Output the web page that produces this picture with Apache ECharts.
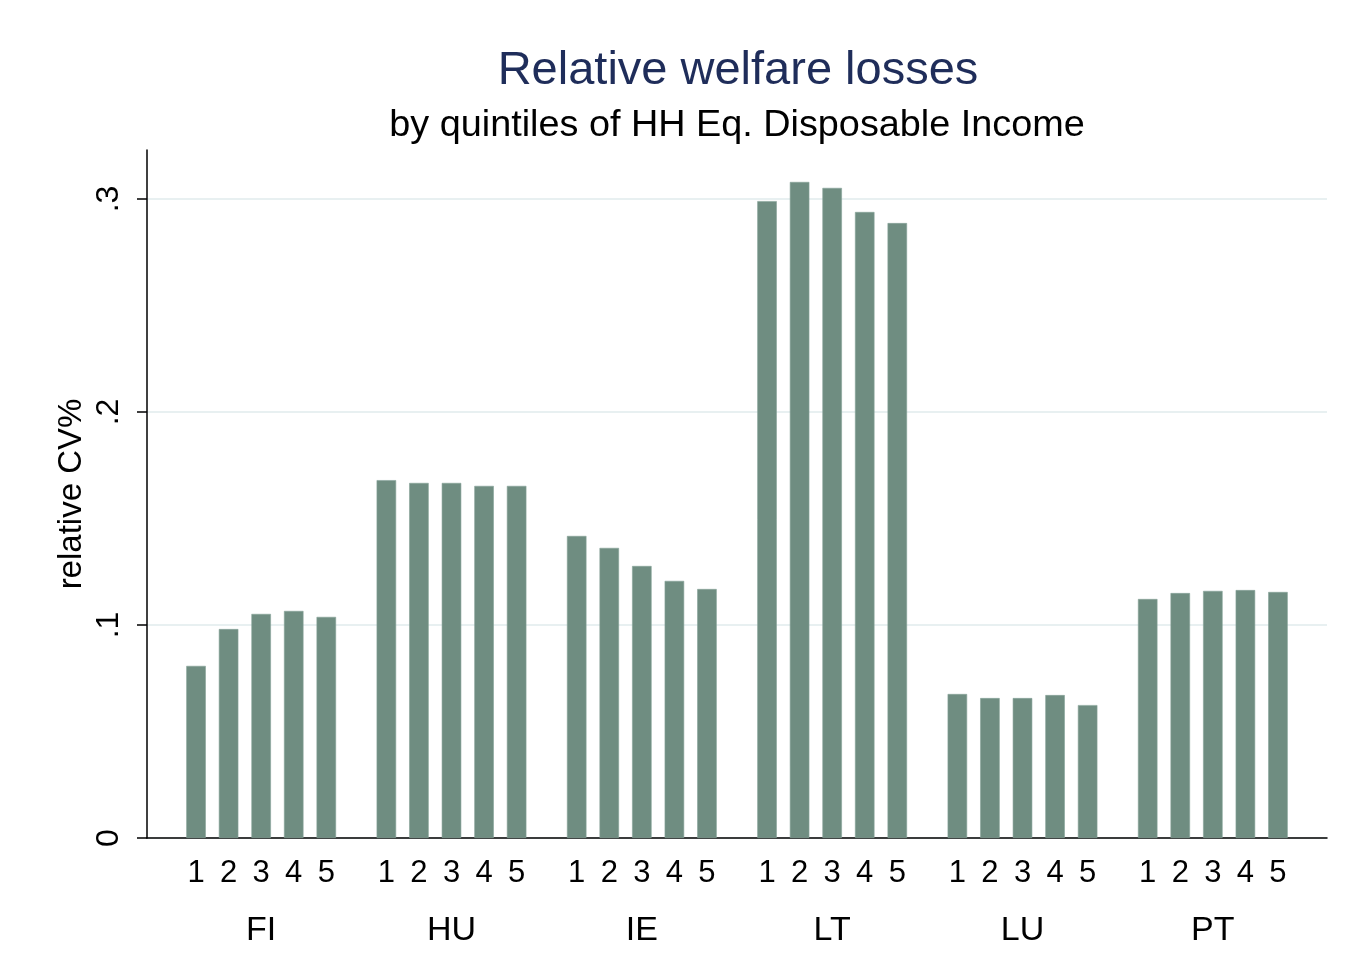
<!DOCTYPE html>
<html>
<head>
<meta charset="utf-8">
<script src="https://cdn.jsdelivr.net/npm/echarts@6/dist/echarts.min.js"></script>
<style>
html,body{margin:0;padding:0;background:#fff;}
#chart{width:1349px;height:976px;}
</style>
</head>
<body>
<div id="chart"></div>
<script>
const countries = ['FI', 'HU', 'IE', 'LT', 'LU', 'PT'];
const quintiles = ['1', '2', '3', '4', '5'];
const q1 = [0.0808, 0.1680, 0.1418, 0.2990, 0.0676, 0.1122];
const q2 = [0.0981, 0.1667, 0.1362, 0.3080, 0.0657, 0.1150];
const q3 = [0.1052, 0.1667, 0.1277, 0.3052, 0.0657, 0.1160];
const q4 = [0.1066, 0.1653, 0.1207, 0.2939, 0.0671, 0.1164];
const q5 = [0.1038, 0.1653, 0.1169, 0.2887, 0.0624, 0.1155];
const yTicks = [0, 0.1, 0.2, 0.3];
const yTickLabels = ['0', '.1', '.2', '.3'];

const quintileValues = [q1, q2, q3, q4, q5];
const FONT = 'Liberation Sans, Arial, sans-serif';
const BAR = '#6f8d81';

const chart = echarts.init(document.getElementById('chart'));
const option = {
  backgroundColor: '#ffffff',
  animation: false,
  title: [
    { text: 'Relative welfare losses', left: 733, top: 43, textAlign: 'center',
      textStyle: { fontFamily: FONT, fontSize: 47, fontWeight: 'normal', color: '#1f2d5a' } },
    { text: 'by quintiles of HH Eq. Disposable Income', left: 732, top: 102, textAlign: 'center',
      textStyle: { fontFamily: FONT, fontSize: 37.8, fontWeight: 'normal', color: '#000' } }
  ],
  grid: [
    { left: 147, right: 22, top: 199, bottom: 138 },
    { left: 147, right: 22, top: 150, bottom: 138 },
    { left: 166, right: 41, top: 150, bottom: 138 }
  ],
  xAxis: [
    { type: 'value', gridIndex: 0, min: 0, max: 1, position: 'bottom',
      axisLine: { show: true, onZero: false, lineStyle: { color: '#000', width: 1.5 } },
      axisTick: { show: false }, axisLabel: { show: false }, splitLine: { show: false } },
    { type: 'value', gridIndex: 1, min: 0, max: 1, show: false },
    { type: 'category', gridIndex: 2, data: countries,
      axisLine: { show: false }, axisTick: { show: false },
      axisLabel: { fontFamily: FONT, fontSize: 34, color: '#000', margin: 76 } }
  ],
  yAxis: [
    { type: 'value', gridIndex: 0, min: 0, max: 0.3, interval: 0.1,
      axisLine: { show: false },
      axisTick: { show: true, length: 10, lineStyle: { color: '#000', width: 1.5 } },
      axisLabel: { rotate: 90, margin: 22, fontFamily: FONT, fontSize: 32, color: '#000',
        formatter: function (v) { const i = yTicks.findIndex(t => Math.abs(t - v) < 1e-9); return i >= 0 ? yTickLabels[i] : ''; } },
      splitLine: { show: true, lineStyle: { color: '#e8f0f1', width: 2 } } },
    { type: 'value', gridIndex: 1, min: 0, max: 0.323,
      name: 'relative CV%', nameLocation: 'middle', nameRotate: 90, nameGap: 59,
      nameTextStyle: { fontFamily: FONT, fontSize: 33, color: '#000' },
      axisLine: { show: true, lineStyle: { color: '#000', width: 1.5 } },
      axisTick: { show: false }, axisLabel: { show: false }, splitLine: { show: false } },
    { type: 'value', gridIndex: 2, min: 0, max: 0.323, show: false }
  ],
  series: quintiles.map(function (q, i) {
    return {
      name: q, type: 'bar', xAxisIndex: 2, yAxisIndex: 2,
      data: quintileValues[i],
      barWidth: 19.5, barGap: '67%',
      itemStyle: { color: BAR, borderColor: '#86a398', borderWidth: 0.6 },
      label: { show: true, position: 'bottom', distance: 20, formatter: q,
        fontFamily: FONT, fontSize: 31, color: '#000' }
    };
  })
};
chart.setOption(option);
</script>
</body>
</html>
